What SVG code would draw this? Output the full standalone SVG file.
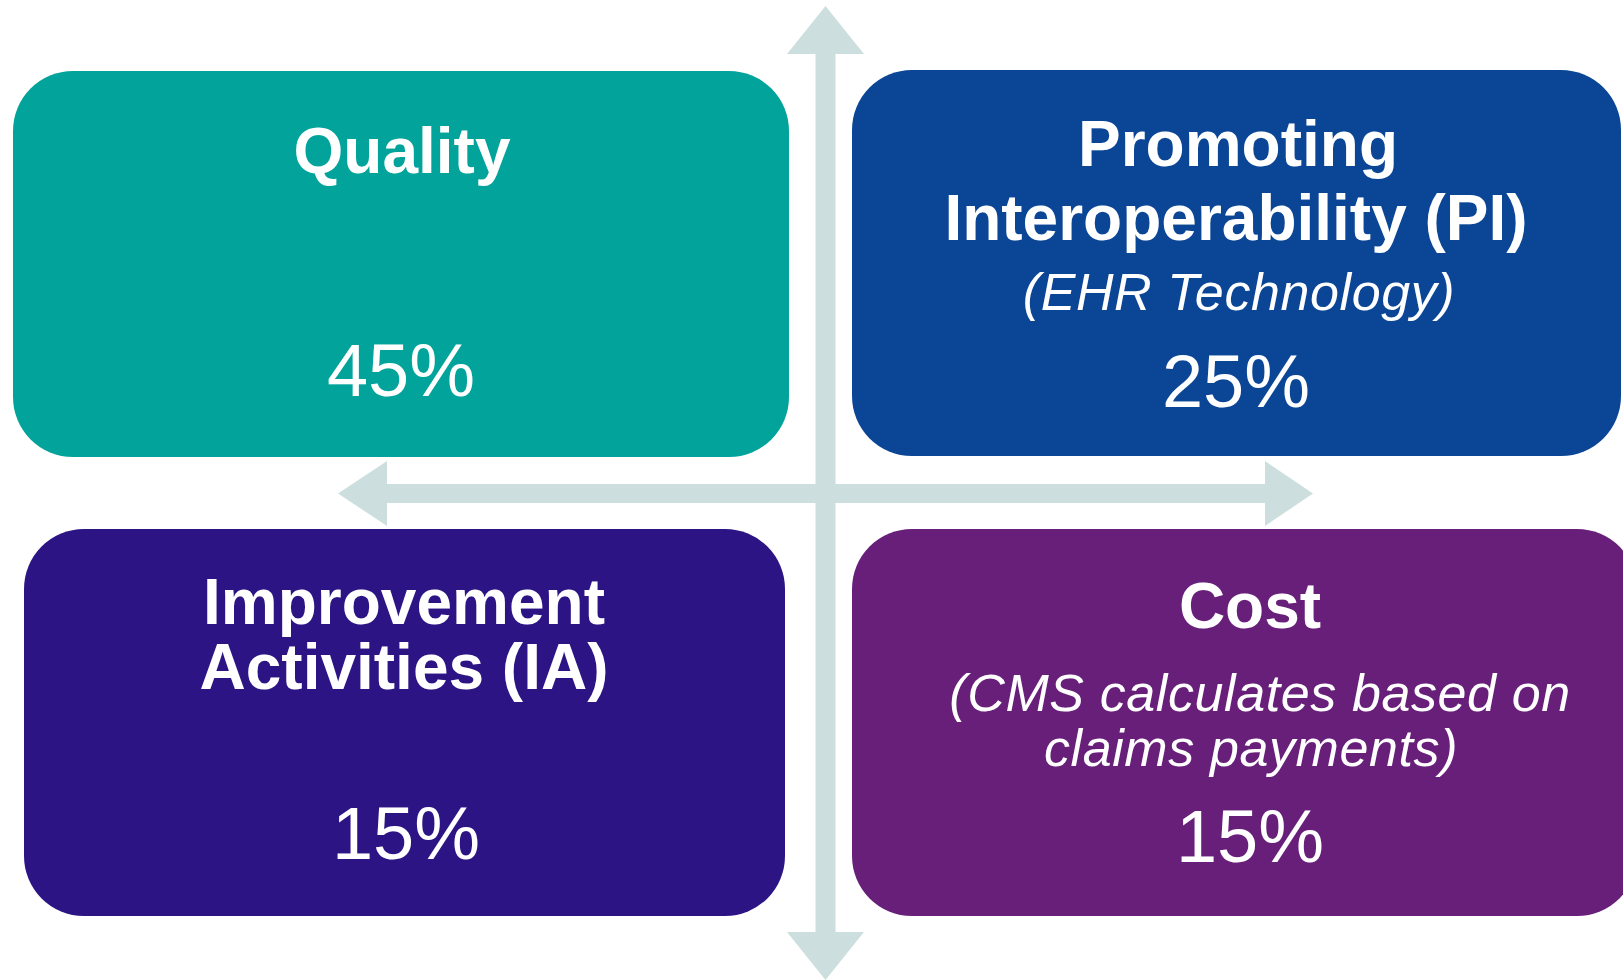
<svg xmlns="http://www.w3.org/2000/svg" width="1623" height="980" viewBox="0 0 1623 980">
<style>
.t{font-family:"Liberation Sans",Arial,sans-serif;fill:#fff;text-anchor:middle}
.b{font-weight:bold;font-size:64px}
.i{font-style:italic;font-size:52px;letter-spacing:0.6px}
.p{font-size:74px}
.arr{fill:#CCDFDE}
</style>
<rect width="1623" height="980" fill="#fff"/>
<g id="connectors">
<polygon class="arr" points="825.5,6 864,54 835.5,54 835.5,932 864,932 825.5,980 787,932 815.5,932 815.5,54 787,54"/>
<polygon class="arr" points="338,493.5 387,461 387,484 1265,484 1265,461 1313,493.5 1265,526 1265,503 387,503 387,526"/>
</g>
<g id="quality">
<rect x="13" y="71" width="776" height="386" rx="60" fill="#02A39B"/>
<text class="t b" x="402" y="173">Quality</text>
<text class="t p" x="401" y="396">45%</text>
</g>
<g id="pi">
<rect x="852" y="70" width="769" height="386" rx="60" fill="#0B4595"/>
<text class="t b" x="1238" y="166">Promoting</text>
<text class="t b" x="1236" y="240">Interoperability (PI)</text>
<text class="t i" x="1239" y="310">(EHR Technology)</text>
<text class="t p" x="1236" y="407">25%</text>
</g>
<g id="ia">
<rect x="24" y="529" width="761" height="387" rx="60" fill="#2C1484"/>
<text class="t b" x="404" y="624">Improvement</text>
<text class="t b" x="404" y="689">Activities (IA)</text>
<text class="t p" x="406" y="859">15%</text>
</g>
<g id="cost">
<rect x="852" y="529" width="785" height="387" rx="60" fill="#681F7A"/>
<text class="t b" x="1250" y="628">Cost</text>
<text class="t i" x="1260" y="711">(CMS calculates based on</text>
<text class="t i" x="1251" y="766">claims payments)</text>
<text class="t p" x="1250" y="862">15%</text>
</g>
</svg>
